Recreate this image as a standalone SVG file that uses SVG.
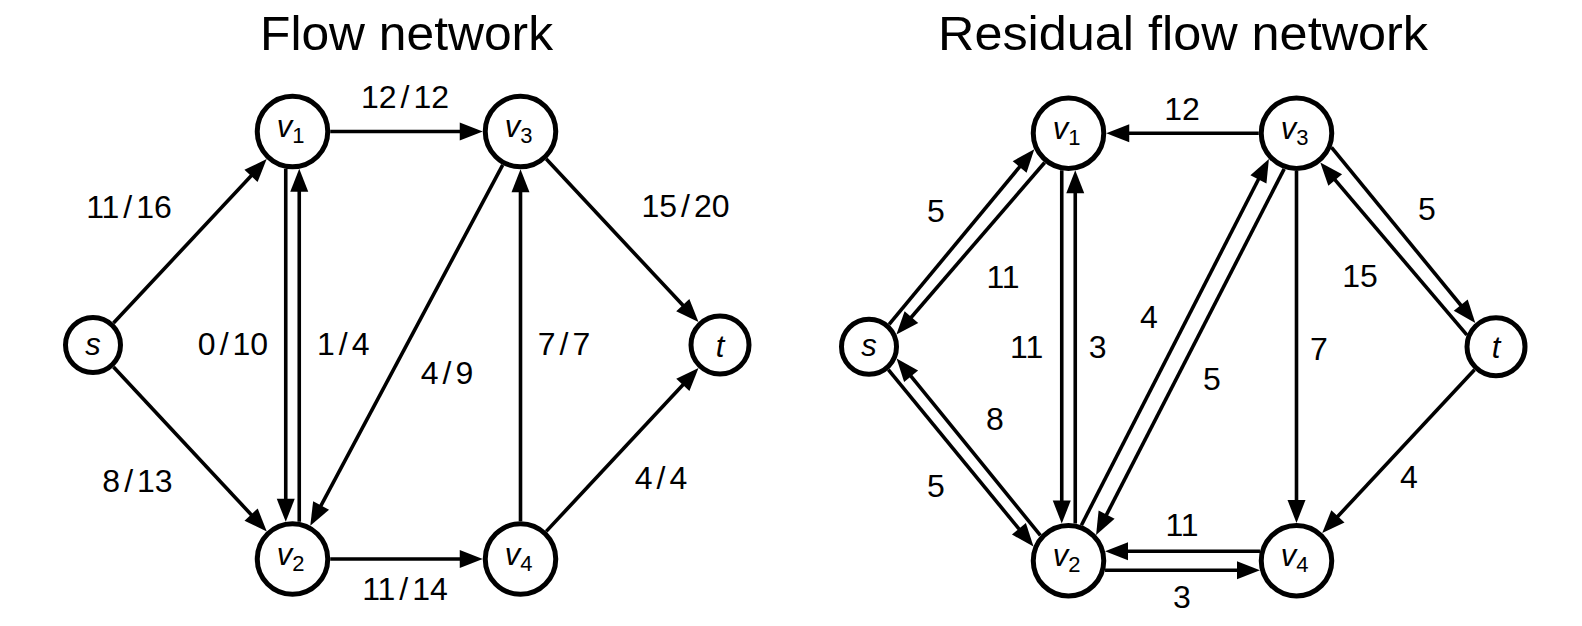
<svg xmlns="http://www.w3.org/2000/svg" width="1582" height="626" viewBox="0 0 1582 626">
<style>
.title{font-family:"Liberation Sans",Arial,sans-serif;font-size:48px;text-anchor:middle;fill:#000}
.lbl{font-family:"Liberation Sans",Arial,sans-serif;font-size:32px;text-anchor:middle;fill:#000}
.nd circle{fill:#fff;stroke:#000;stroke-width:5}
.nt{font-family:"Liberation Sans",Arial,sans-serif;font-size:31px;text-anchor:middle;fill:#000}
.it{font-style:italic}
.sub{font-size:22px}
.e line{stroke:#000;stroke-width:3.6;fill:none;marker-end:url(#ah)}
</style>
<defs>
<marker id="ah" markerUnits="userSpaceOnUse" orient="auto" refX="0" refY="0" markerWidth="30" markerHeight="30" overflow="visible">
<path d="M6,0 L-17,-9 L-17,9 Z" fill="#000"/>
</marker>
</defs>
<rect width="1582" height="626" fill="#fff"/>

<text class="title" x="406.5" y="50" textLength="293" lengthAdjust="spacingAndGlyphs">Flow network</text>
<text class="title" x="1183" y="50" textLength="490" lengthAdjust="spacingAndGlyphs">Residual flow network</text>

<g id="connectors-left" class="e">
<line x1="113.5" y1="323.1" x2="262.6" y2="163.5"/>
<line x1="113.5" y1="366.9" x2="262.7" y2="527.0"/>
<line x1="330.25" y1="131.5" x2="476.75" y2="131.5"/>
<line x1="285.75" y1="168.64" x2="285.75" y2="515.86"/>
<line x1="299.25" y1="521.86" x2="299.25" y2="174.64"/>
<line x1="502.73" y1="164.81" x2="313.09" y2="520.4"/>
<line x1="520.5" y1="521.25" x2="520.5" y2="175.25"/>
<line x1="546.28" y1="159.08" x2="694.39" y2="317.6"/>
<line x1="546.24" y1="531.39" x2="694.43" y2="372.43"/>
<line x1="330.25" y1="559" x2="476.75" y2="559"/>
</g>

<g id="connectors-right" class="e">
<line x1="1258.75" y1="133.2" x2="1112.25" y2="133.2"/>
<line x1="889.1" y1="324.4" x2="1030.47" y2="153.82"/>
<line x1="1044.7" y1="162.5" x2="900.32" y2="329.96"/>
<line x1="1061.75" y1="170.34" x2="1061.75" y2="517.56"/>
<line x1="1075.25" y1="523.56" x2="1075.25" y2="176.34"/>
<line x1="1081.4" y1="525.2" x2="1266.17" y2="164.24"/>
<line x1="1284.2" y1="168.9" x2="1098.84" y2="529.66"/>
<line x1="1296.5" y1="170.95" x2="1296.5" y2="516.95"/>
<line x1="1331.5" y1="147.3" x2="1471.5" y2="318.26"/>
<line x1="1466.8" y1="334.9" x2="1324.19" y2="167.07"/>
<line x1="888.3" y1="369.7" x2="1029.69" y2="541.96"/>
<line x1="1040.4" y1="535.4" x2="900.38" y2="363.06"/>
<line x1="1259.97" y1="551.2" x2="1111.03" y2="551.2"/>
<line x1="1105.03" y1="570.2" x2="1253.97" y2="570.2"/>
<line x1="1474.52" y1="369.74" x2="1326.33" y2="528.7"/>
</g>

<g id="edge-labels-left" class="lbl">
<text x="405" y="108">12<tspan dx="4">/</tspan><tspan dx="4">12</tspan></text>
<text x="129" y="218.3">11<tspan dx="4">/</tspan><tspan dx="4">16</tspan></text>
<text x="233" y="355">0<tspan dx="4">/</tspan><tspan dx="4">10</tspan></text>
<text x="343.3" y="355">1<tspan dx="4">/</tspan><tspan dx="4">4</tspan></text>
<text x="137.5" y="491.7">8<tspan dx="4">/</tspan><tspan dx="4">13</tspan></text>
<text x="405" y="600">11<tspan dx="4">/</tspan><tspan dx="4">14</tspan></text>
<text x="447" y="384">4<tspan dx="4">/</tspan><tspan dx="4">9</tspan></text>
<text x="564" y="355">7<tspan dx="4">/</tspan><tspan dx="4">7</tspan></text>
<text x="685.5" y="217.3">15<tspan dx="4">/</tspan><tspan dx="4">20</tspan></text>
<text x="661" y="489">4<tspan dx="4">/</tspan><tspan dx="4">4</tspan></text>
</g>

<g id="edge-labels-right" class="lbl">
<text x="1182" y="120">12</text>
<text x="936" y="221.7">5</text>
<text x="1003" y="288.3">11</text>
<text x="1026.7" y="358.3">11</text>
<text x="1097.7" y="358">3</text>
<text x="1149" y="328.3">4</text>
<text x="1212" y="390">5</text>
<text x="1319" y="360">7</text>
<text x="1427" y="220">5</text>
<text x="1360" y="287.3">15</text>
<text x="995" y="430">8</text>
<text x="936" y="497.3">5</text>
<text x="1182" y="536">11</text>
<text x="1182" y="608.3">3</text>
<text x="1409" y="488">4</text>
</g>

<g id="L-s" class="nd"><circle cx="93" cy="345" r="27.5"/><text class="nt it" x="93" y="354.5" font-size="32">s</text></g>
<g id="L-v1" class="nd"><circle cx="292.5" cy="131.5" r="35.25"/><text class="nt" x="290.5" y="137"><tspan class="it">v</tspan><tspan class="sub" dy="6">1</tspan></text></g>
<g id="L-v3" class="nd"><circle cx="520.5" cy="131.5" r="35.25"/><text class="nt" x="518.5" y="137"><tspan class="it">v</tspan><tspan class="sub" dy="6">3</tspan></text></g>
<g id="L-t" class="nd"><circle cx="720" cy="345" r="29"/><text class="nt it" x="720" y="356.5" font-size="31">t</text></g>
<g id="L-v2" class="nd"><circle cx="292.5" cy="559" r="35.25"/><text class="nt" x="290.5" y="564.5"><tspan class="it">v</tspan><tspan class="sub" dy="6">2</tspan></text></g>
<g id="L-v4" class="nd"><circle cx="520.5" cy="559" r="35.25"/><text class="nt" x="518.5" y="564.5"><tspan class="it">v</tspan><tspan class="sub" dy="6">4</tspan></text></g>

<g id="R-s" class="nd"><circle cx="869" cy="346.7" r="27.5"/><text class="nt it" x="869" y="356.2" font-size="32">s</text></g>
<g id="R-v1" class="nd"><circle cx="1068.5" cy="133.2" r="35.25"/><text class="nt" x="1066.5" y="138.7"><tspan class="it">v</tspan><tspan class="sub" dy="6">1</tspan></text></g>
<g id="R-v3" class="nd"><circle cx="1296.5" cy="133.2" r="35.25"/><text class="nt" x="1294.5" y="138.7"><tspan class="it">v</tspan><tspan class="sub" dy="6">3</tspan></text></g>
<g id="R-t" class="nd"><circle cx="1496" cy="346.7" r="29"/><text class="nt it" x="1496" y="358.2" font-size="31">t</text></g>
<g id="R-v2" class="nd"><circle cx="1068.5" cy="560.7" r="35.25"/><text class="nt" x="1066.5" y="566.2"><tspan class="it">v</tspan><tspan class="sub" dy="6">2</tspan></text></g>
<g id="R-v4" class="nd"><circle cx="1296.5" cy="560.7" r="35.25"/><text class="nt" x="1294.5" y="566.2"><tspan class="it">v</tspan><tspan class="sub" dy="6">4</tspan></text></g>
</svg>
